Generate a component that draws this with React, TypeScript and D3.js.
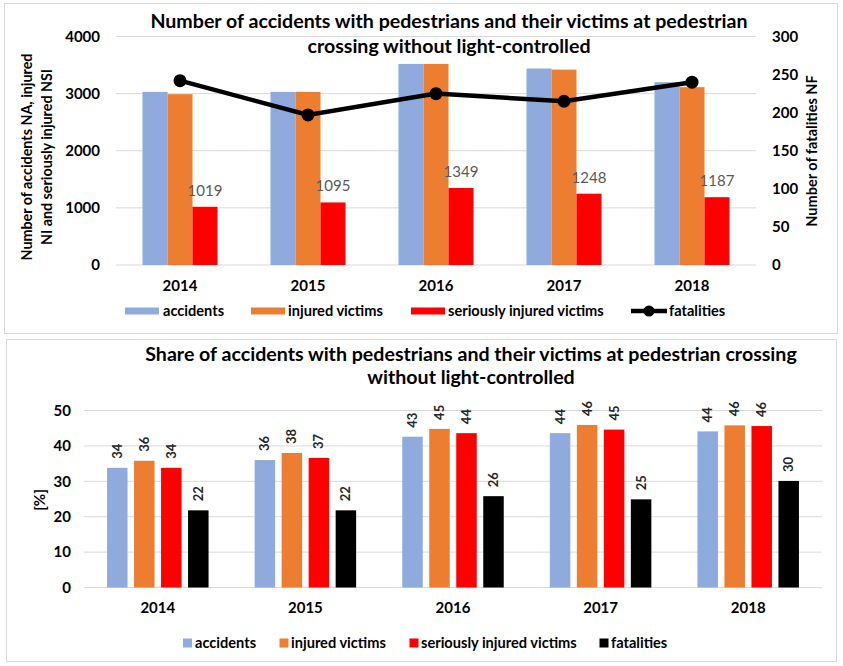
import React from 'react';
import * as d3 from 'd3';

// ---------- data ----------
const years = ['2014', '2015', '2016', '2017', '2018'];
const accidents = [3030, 3030, 3520, 3440, 3200];
const injuredVictims = [2990, 3030, 3520, 3420, 3113];
const seriouslyInjured = [1019, 1095, 1349, 1248, 1187];
const fatalities = [242, 197, 225, 215, 240];
const leftTicks = [0, 1000, 2000, 3000, 4000];
const rightTicks = [0, 50, 100, 150, 200, 250, 300];

const shareAccidents = [33.8, 36.0, 42.6, 43.6, 44.1];
const shareInjured = [35.8, 38.0, 44.8, 45.9, 45.8];
const shareSerious = [33.8, 36.6, 43.6, 44.6, 45.6];
const shareFatalities = [21.8, 21.8, 25.8, 24.9, 30.1];
const shareTicks = [0, 10, 20, 30, 40, 50];

const seriesNames = ['accidents', 'injured victims', 'seriously injured victims', 'fatalities'];
const colors = ['#8FAADC', '#ED7D31', '#FF0000', '#000000'];

const FONT = 'Lato, Carlito, "Open Sans", sans-serif';
const GRID = '#D9D9D9';

function TopChart() {
  const x0 = d3.scaleBand<string>().domain(years).range([116, 756]).padding(0);
  const barW = 25;
  const x1 = d3.scaleBand<number>().domain([0, 1, 2]).range([0, barW * 3]).padding(0);
  const groupOff = (x0.bandwidth() - barW * 3) / 2;
  const yL = d3.scaleLinear().domain([0, 4000]).range([265, 36.5]);
  const yR = d3.scaleLinear().domain([0, 300]).range([265, 36.5]);
  const barSeries = [accidents, injuredVictims, seriouslyInjured];
  const cx = (y: string) => (x0(y) as number) + x0.bandwidth() / 2;
  const line = d3.line<number>().x((_, i) => cx(years[i])).y((d) => yR(d));

  const legendItems = [
    { x: 125, tx: 163, type: 'bar', c: colors[0], label: seriesNames[0] },
    { x: 251, tx: 288, type: 'bar', c: colors[1], label: seriesNames[1] },
    { x: 411, tx: 448, type: 'bar', c: colors[2], label: seriesNames[2] },
    { x: 631, tx: 669, type: 'line', c: colors[3], label: seriesNames[3] },
  ];

  return (
    <g>
      <rect x={4.5} y={3.5} width={833} height={330} fill="#fff" stroke={GRID} />
      {leftTicks.map((t) => (
        <line key={t} x1={116} x2={756} y1={yL(t)} y2={yL(t)} stroke={GRID} strokeWidth={1} />
      ))}
      {leftTicks.map((t) => (
        <text key={t} x={100} y={yL(t)} dy="0.35em" textAnchor="end" fontSize={15} fontWeight="bold" fill="#000">{t}</text>
      ))}
      {rightTicks.map((t) => (
        <text key={t} x={772} y={yR(t)} dy="0.35em" textAnchor="start" fontSize={15} fontWeight="bold" fill="#000">{t}</text>
      ))}
      {/* title */}
      <text x={449} y={28} textAnchor="middle" fontSize={19.6} fontWeight="bold" fill="#000">
        Number of accidents with pedestrians and their victims at pedestrian
      </text>
      <text x={449} y={53} textAnchor="middle" fontSize={19.6} fontWeight="bold" fill="#000">
        crossing without light-controlled
      </text>
      {/* bars */}
      {barSeries.map((s, si) =>
        s.map((v, i) => (
          <rect
            key={si + '-' + i}
            x={(x0(years[i]) as number) + groupOff + (x1(si) as number)}
            y={yL(v)}
            width={x1.bandwidth()}
            height={yL(0) - yL(v)}
            fill={colors[si]}
          />
        ))
      )}
      {/* data labels for seriously injured */}
      {seriouslyInjured.map((v, i) => (
        <text
          key={i}
          x={(x0(years[i]) as number) + groupOff + (x1(2) as number) + barW / 2}
          y={yL(v) - 11}
          textAnchor="middle"
          fontSize={15}
          fill="#595959"
        >{v}</text>
      ))}
      {/* fatalities line */}
      <path d={line(fatalities) || ''} fill="none" stroke="#000" strokeWidth={4.5} />
      {fatalities.map((v, i) => (
        <circle key={i} cx={cx(years[i])} cy={yR(v)} r={6.5} fill="#000" />
      ))}
      {/* categories */}
      {years.map((y) => (
        <text key={y} x={cx(y)} y={286} dy="0.35em" textAnchor="middle" fontSize={15} fontWeight="bold" fill="#000">{y}</text>
      ))}
      {/* axis titles */}
      <text transform="translate(32,157) rotate(-90)" textAnchor="middle" fontSize={14.3} fontWeight="bold" fill="#000">
        Number of accidents NA, injured
      </text>
      <text transform="translate(52,157) rotate(-90)" textAnchor="middle" fontSize={14.3} fontWeight="bold" fill="#000">
        NI and seriously injured NSI
      </text>
      <text transform="translate(817,151) rotate(-90)" textAnchor="middle" fontSize={14.5} fontWeight="bold" fill="#000">
        Number of fatalities NF
      </text>
      {/* legend */}
      {legendItems.map((it) => (
        <g key={it.label}>
          {it.type === 'bar' ? (
            <rect x={it.x} y={307.5} width={34} height={7} fill={it.c} />
          ) : (
            <g>
              <line x1={it.x} x2={it.x + 36} y1={311} y2={311} stroke={it.c} strokeWidth={4.5} />
              <circle cx={it.x + 18} cy={311} r={5.5} fill={it.c} />
            </g>
          )}
          <text x={it.tx} y={311} dy="0.35em" fontSize={14.6} fontWeight="bold" fill="#000">{it.label}</text>
        </g>
      ))}
    </g>
  );
}

function BottomChart() {
  const x0 = d3.scaleBand<string>().domain(years).range([84, 822]).padding(0);
  const barW = 20.5;
  const gap = 6.5;
  const groupW = barW * 4 + gap * 3;
  const x1 = d3.scaleBand<number>().domain([0, 1, 2, 3]).range([0, groupW]).paddingInner(gap / (barW + gap)).paddingOuter(0);
  const groupOff = (x0.bandwidth() - groupW) / 2;
  const y = d3.scaleLinear().domain([0, 50]).range([587.5, 410.5]);
  const series = [shareAccidents, shareInjured, shareSerious, shareFatalities];
  const cx = (yr: string) => (x0(yr) as number) + x0.bandwidth() / 2;

  const legendItems = [
    { x: 183, tx: 195, c: colors[0], label: seriesNames[0] },
    { x: 279.5, tx: 291, c: colors[1], label: seriesNames[1] },
    { x: 409.5, tx: 421, c: colors[2], label: seriesNames[2] },
    { x: 599.5, tx: 611, c: colors[3], label: seriesNames[3] },
  ];

  return (
    <g>
      <rect x={6.5} y={339.5} width={830} height={322} fill="#fff" stroke={GRID} />
      {shareTicks.map((t) => (
        <line key={t} x1={84} x2={822} y1={y(t)} y2={y(t)} stroke={GRID} strokeWidth={1} />
      ))}
      {shareTicks.map((t) => (
        <text key={t} x={71} y={y(t)} dy="0.35em" textAnchor="end" fontSize={15} fontWeight="bold" fill="#000">{t}</text>
      ))}
      <text x={471} y={361} textAnchor="middle" fontSize={19.6} fontWeight="bold" fill="#000">
        Share of accidents with pedestrians and their victims at pedestrian crossing
      </text>
      <text x={471} y={384} textAnchor="middle" fontSize={19.6} fontWeight="bold" fill="#000">
        without light-controlled
      </text>
      {series.map((s, si) =>
        s.map((v, i) => {
          const bx = (x0(years[i]) as number) + groupOff + (x1(si) as number);
          return (
            <g key={si + '-' + i}>
              <rect x={bx} y={y(v)} width={x1.bandwidth()} height={y(0) - y(v)} fill={colors[si]} />
              <text
                transform={`translate(${bx + x1.bandwidth() / 2 + 4.5},${y(v) - 9}) rotate(-90)`}
                textAnchor="start"
                fontSize={13}
                fontWeight="bold"
                fill="#262626"
              >{Math.round(v)}</text>
            </g>
          );
        })
      )}
      {years.map((yr) => (
        <text key={yr} x={cx(yr)} y={608} dy="0.35em" textAnchor="middle" fontSize={15} fontWeight="bold" fill="#000">{yr}</text>
      ))}
      <text transform="translate(45,500) rotate(-90)" textAnchor="middle" fontSize={15} fontWeight="bold" fill="#000">[%]</text>
      {legendItems.map((it) => (
        <g key={it.label}>
          <rect x={it.x} y={638.5} width={9} height={9} fill={it.c} />
          <text x={it.tx} y={643} dy="0.35em" fontSize={14.6} fontWeight="bold" fill="#000">{it.label}</text>
        </g>
      ))}
    </g>
  );
}

export default function App() {
  return (
    <svg
      width={843}
      height={666}
      style={{ position: 'absolute', left: 0, top: 0, background: '#fff' }}
      fontFamily={FONT}
    >
      <rect x={0} y={0} width={843} height={666} fill="#fff" />
      <TopChart />
      <BottomChart />
    </svg>
  );
}
